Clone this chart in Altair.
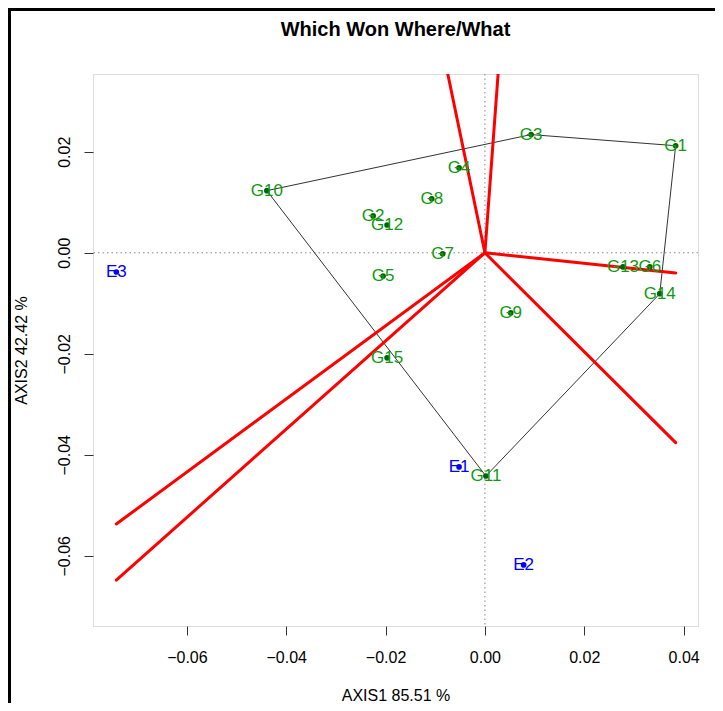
import altair as alt
import pandas as pd

# Genotype scores
genotypes = ["G1", "G2", "G3", "G4", "G5", "G6", "G7", "G8", "G9", "G10",
             "G11", "G12", "G13", "G14", "G15"]
gen_x = [0.0384, -0.0225, 0.0093, -0.0052, -0.0205, 0.0332, -0.0085, -0.0107,
         0.0052, -0.0439, 0.0002, -0.0197, 0.0278, 0.0352, -0.0197]
gen_y = [0.0212, 0.0073, 0.0234, 0.0168, -0.0046, -0.0028, -0.0002, 0.0107,
         -0.0119, 0.0123, -0.0442, 0.0055, -0.0028, -0.0081, -0.0208]

# Environment scores
envs = ["E1", "E2", "E3"]
env_x = [-0.0052, 0.0078, -0.0742]
env_y = [-0.0424, -0.0618, -0.0038]

# Convex hull (vertex genotypes, closed)
hull_order = ["G10", "G3", "G1", "G14", "G11", "G10"]

# Sector-dividing rays from origin (end points)
ray_x = [-0.0076, 0.0027, 0.0384, 0.0384, -0.0742, -0.0742]
ray_y = [0.0360, 0.0360, -0.0040, -0.0376, -0.0537, -0.0648]

x_dom = [-0.0789, 0.0429]
y_dom = [-0.0739, 0.0354]
x_ticks = [-0.06, -0.04, -0.02, 0.0, 0.02, 0.04]
y_ticks = [-0.06, -0.04, -0.02, 0.0, 0.02]

FONT = "Liberation Sans"

gen_df = pd.DataFrame({"name": genotypes, "x": gen_x, "y": gen_y})
env_df = pd.DataFrame({"name": envs, "x": env_x, "y": env_y})
lookup = dict(zip(genotypes, zip(gen_x, gen_y)))
hull_df = pd.DataFrame({
    "order": list(range(len(hull_order))),
    "x": [lookup[g][0] for g in hull_order],
    "y": [lookup[g][1] for g in hull_order],
})
ray_df = pd.DataFrame({"x0": [0.0] * len(ray_x), "y0": [0.0] * len(ray_y),
                       "x1": ray_x, "y1": ray_y})
zero_df = pd.DataFrame({"v": [0.0]})

xs = alt.Scale(domain=x_dom, nice=False, zero=False)
ys = alt.Scale(domain=y_dom, nice=False, zero=False)

xax = alt.Axis(values=x_ticks, format=".2f", title="AXIS1 85.51 %", grid=False,
               domain=False, tickSize=9, tickColor="#333333", labelFontSize=16,
               labelFont=FONT, labelColor="black", labelPadding=14,
               titleFont=FONT, titleFontSize=16, titleFontWeight="normal",
               titleColor="black", titlePadding=22)
yax = alt.Axis(values=y_ticks, format=".2f", title="AXIS2 42.42 %", grid=False,
               domain=False, tickSize=9, tickColor="#333333", labelFontSize=16,
               labelFont=FONT, labelColor="black", labelAngle=270,
               labelAlign="center", labelBaseline="bottom", labelPadding=12,
               titleFont=FONT, titleFontSize=16, titleFontWeight="normal",
               titleColor="black", titlePadding=27)

base_x = alt.X("x:Q", scale=xs, axis=xax)
base_y = alt.Y("y:Q", scale=ys, axis=yax)

vline = alt.Chart(zero_df).mark_rule(color="#888888", strokeDash=[1.5, 3], strokeWidth=1).encode(
    x=alt.X("v:Q", scale=xs, axis=xax))
hline = alt.Chart(zero_df).mark_rule(color="#888888", strokeDash=[1.5, 3], strokeWidth=1).encode(
    y=alt.Y("v:Q", scale=ys, axis=yax))

hull = alt.Chart(hull_df).mark_line(color="#333333", strokeWidth=1).encode(
    x=base_x, y=base_y, order="order:O")

rays = alt.Chart(ray_df).mark_rule(color="#ff0000", strokeWidth=3, strokeCap="round", clip=True).encode(
    x=alt.X("x0:Q", scale=xs, axis=xax), y=alt.Y("y0:Q", scale=ys, axis=yax),
    x2="x1:Q", y2="y1:Q")

gen_pts = alt.Chart(gen_df).mark_circle(color="#006400", size=32, opacity=1).encode(x=base_x, y=base_y)
gen_txt = alt.Chart(gen_df).mark_text(color="#119911", font=FONT, fontSize=17,
                                      baseline="middle", align="center").encode(
    x=base_x, y=base_y, text="name:N")
env_pts = alt.Chart(env_df).mark_circle(color="#0000ff", size=32, opacity=1).encode(x=base_x, y=base_y)
env_txt = alt.Chart(env_df).mark_text(color="#0000ff", font=FONT, fontSize=17,
                                      baseline="middle", align="center").encode(
    x=base_x, y=base_y, text="name:N")

# outer frame edges (top and left) of the original device window
frame_top = alt.Chart(zero_df).mark_rule(color="black", strokeWidth=3).encode(
    x=alt.value(-85), x2=alt.value(640), y=alt.value(-64.5))
frame_left = alt.Chart(zero_df).mark_rule(color="black", strokeWidth=3).encode(
    x=alt.value(-83.5), y=alt.value(-66), y2=alt.value(640))

chart = alt.layer(
    vline, hline, hull, rays, gen_pts, gen_txt, env_pts, env_txt, frame_top, frame_left
).properties(
    width=605, height=552,
    title=alt.TitleParams("Which Won Where/What", font=FONT, fontSize=20, fontWeight="bold",
                          color="black", anchor="middle", frame="group",
                          baseline="alphabetic", offset=0, dy=49),
    autosize=alt.AutoSizeParams(type="none"),
    padding={"left": 85, "top": 66, "right": 17, "bottom": 77},
).configure_view(stroke="#333333", strokeWidth=1).configure(background="white")

chart.save("out.html", embed_options={"renderer": "svg", "actions": False})
